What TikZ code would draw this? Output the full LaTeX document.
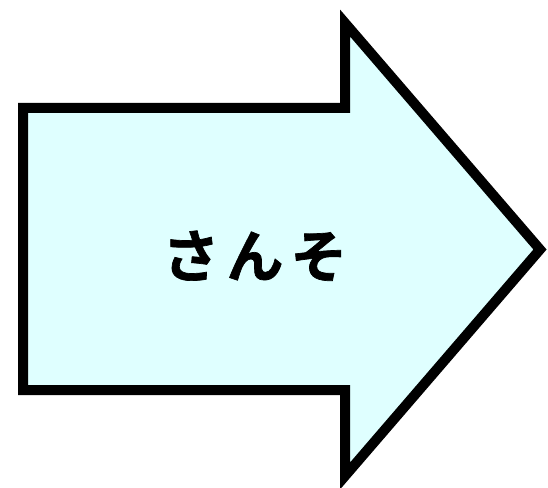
\documentclass[tikz,border=0pt]{standalone}
\usepackage{fontspec}
\newfontfamily\cjk[FakeBold=1.2]{Noto Sans CJK JP Bold}
\definecolor{arrowfill}{HTML}{DFFFFF}
\begin{document}
\begin{tikzpicture}[x=1pt,y=1pt,
  arrowshape/.style={draw=black,fill=arrowfill,line width=10pt,line join=miter,miter limit=10},
  textlabel/.style={font={\cjk\fontsize{57pt}{60pt}\selectfont},inner sep=0pt}]
\useasboundingbox (0,0) rectangle (548,487);
\draw[arrowshape] (23,379) -- (345,379) -- (345,464) -- (540,237.5) -- (345,11) -- (345,97) -- (23,97) -- cycle;
\node[textlabel] (t) at (255,231) {さ\hspace{7pt}ん\hspace{7pt}そ};
\end{tikzpicture}
\end{document}
